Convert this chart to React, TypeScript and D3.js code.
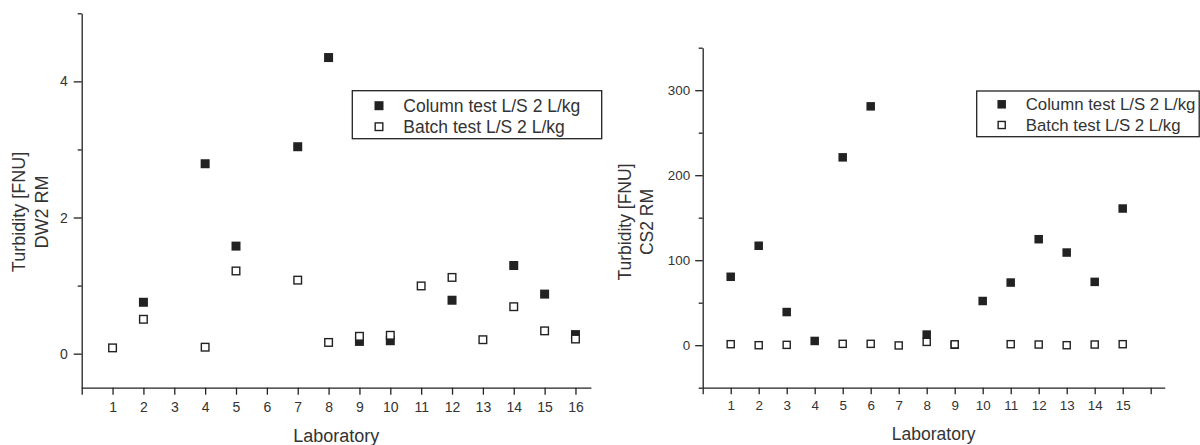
import { useEffect, useRef } from 'react';
import * as d3 from 'd3';

// DW2 RM panel (left)
const dwTickLabels = [1, 2, 3, 4, 5, 6, 7, 8, 9, 10, 11, 12, 13, 14, 15, 16];
const dwColumnLabs = [2, 4, 5, 7, 8, 9, 10, 12, 14, 15, 16];
const dwColumn = [0.755, 2.79, 1.58, 3.04, 4.35, 0.18, 0.19, 0.785, 1.295, 0.875, 0.28];
const dwBatchLabs = [1, 2, 4, 5, 7, 8, 9, 10, 11, 12, 13, 14, 15, 16];
const dwBatch = [0.085, 0.505, 0.095, 1.215, 1.08, 0.165, 0.255, 0.27, 0.995, 1.12, 0.205, 0.69, 0.335, 0.215];
const dwMajor = [0, 2, 4];
const dwMinor = [1, 3, 5];

// CS2 RM panel (right)
const csTickLabels = [1, 2, 3, 4, 5, 6, 7, 8, 9, 10, 11, 12, 13, 14, 15];
const csColumnLabs = [1, 2, 3, 4, 5, 6, 8, 9, 10, 11, 12, 13, 14, 15];
const csColumn = [80.5, 117, 39, 5, 221, 281, 12.5, 0.5, 52, 73.7, 124.7, 109, 74.5, 160.8];
const csBatchLabs = [1, 2, 3, 5, 6, 7, 8, 9, 11, 12, 13, 14, 15];
const csBatch = [1.2, 0, 0.4, 1.6, 1.6, -0.3, 3.9, 1, 1.2, 0.8, 0, 0.8, 1.2];
const csMajor = [0, 100, 200, 300];
const csMinor = [-50, 50, 150, 250, 350];

const legendLabels = ['Column test L/S 2 L/kg', 'Batch test L/S 2 L/kg'];

const FONT = '"Liberation Sans", Arial, sans-serif';
const INK = '#222';
const TXT = '#333';

const panels = [
  {
    left: 81.7, right: 590.9, top: 13.3, bottom: 387.7,
    xDomain: [0, 16.5], yDomain: [-0.5, 5],
    xTicks: 16, tickLabels: dwTickLabels, yMajor: dwMajor, yMinor: dwMinor,
    colLabs: dwColumnLabs, col: dwColumn, batLabs: dwBatchLabs, bat: dwBatch,
    tickFont: 14, labelFont: 18, legendFont: 17.5, marker: 9,
    yTick: 8, yPad: 6, xTick: 7, xPad: 7,
    ylab: { y: 212, x1: 25, x2: 48, l2: 'DW2 RM' },
    xlabY: 442,
    legend: { x: 352.3, y: 90.7, w: 249.4, h: 48, mx: 379, r1: 105.7, r2: 126.7, tx: 403.3 },
  },
  {
    left: 702.7, right: 1164.7, top: 47.7, bottom: 387.7,
    xDomain: [0, 16.5], yDomain: [-50, 350],
    xTicks: 16, tickLabels: csTickLabels, yMajor: csMajor, yMinor: csMinor,
    colLabs: csColumnLabs, col: csColumn, batLabs: csBatchLabs, bat: csBatch,
    tickFont: 13.4, labelFont: 17.5, legendFont: 16.8, marker: 8.5,
    yTick: 7.5, yPad: 5, xTick: 6.5, xPad: 6,
    ylab: { y: 222, x1: 630.5, x2: 653, l2: 'CS2 RM' },
    xlabY: 440,
    legend: { x: 976.7, y: 91, w: 222.5, h: 45.7, mx: 1001.7, r1: 104.3, r2: 125, tx: 1025.7 },
  },
];

function Panel({ cfg }: { cfg: any }) {
  const ref = useRef<SVGGElement>(null);

  useEffect(() => {
    const el = ref.current;
    if (!el) return;
    const g = d3.select(el);
    g.selectAll('*').remove();

    const x = d3.scaleLinear().domain(cfg.xDomain).range([cfg.left, cfg.right]);
    const y = d3.scaleLinear().domain(cfg.yDomain).range([cfg.bottom, cfg.top]);

    // axes
    g.append('g')
      .attr('transform', `translate(${cfg.left},0)`)
      .call(d3.axisLeft(y).tickValues(cfg.yMinor).tickSize(4).tickSizeOuter(0).tickFormat(() => ''))
      .call(a => a.select('.domain').remove());

    g.append('g')
      .attr('transform', `translate(${cfg.left},0)`)
      .call(
        d3.axisLeft(y)
          .tickValues(cfg.yMajor)
          .tickSize(cfg.yTick)
          .tickSizeOuter(0)
          .tickPadding(cfg.yPad)
          .tickFormat((d: any) => String(d))
      );

    g.append('g')
      .attr('transform', `translate(0,${cfg.bottom})`)
      .call(
        d3.axisBottom(x)
          .tickValues(d3.range(0, cfg.xTicks + 1))
          .tickSize(cfg.xTick)
          .tickSizeOuter(0)
          .tickPadding(cfg.xPad)
          .tickFormat((d: any) => (cfg.tickLabels.includes(d) ? String(d) : ''))
      );

    g.selectAll('.domain, .tick line').attr('stroke', INK).attr('stroke-width', 1.3);
    g.selectAll('.tick text')
      .attr('fill', TXT)
      .attr('font-family', FONT)
      .attr('font-size', cfg.tickFont);

    // axis titles
    const yl = g.append('g')
      .attr('font-family', FONT).attr('font-size', cfg.labelFont)
      .attr('fill', TXT).attr('text-anchor', 'middle');
    yl.append('text')
      .attr('transform', `translate(${cfg.ylab.x1},${cfg.ylab.y}) rotate(-90)`)
      .text('Turbidity [FNU]');
    yl.append('text')
      .attr('transform', `translate(${cfg.ylab.x2},${cfg.ylab.y}) rotate(-90)`)
      .text(cfg.ylab.l2);

    g.append('text')
      .attr('x', (cfg.left + cfg.right) / 2)
      .attr('y', cfg.xlabY)
      .attr('text-anchor', 'middle')
      .attr('font-family', FONT).attr('font-size', cfg.labelFont)
      .attr('fill', TXT)
      .text('Laboratory');

    // series: column (filled) first, batch (open) drawn on top
    const s = cfg.marker;
    const sw = 1.4;
    g.append('g').selectAll('rect')
      .data(cfg.colLabs.map((l: number, i: number) => [l, cfg.col[i]]))
      .join('rect')
      .attr('x', (d: any) => x(d[0]) - s / 2)
      .attr('y', (d: any) => y(d[1]) - s / 2)
      .attr('width', s).attr('height', s)
      .attr('fill', INK);

    g.append('g').selectAll('rect')
      .data(cfg.batLabs.map((l: number, i: number) => [l, cfg.bat[i]]))
      .join('rect')
      .attr('x', (d: any) => x(d[0]) - (s - sw) / 2)
      .attr('y', (d: any) => y(d[1]) - (s - sw) / 2)
      .attr('width', s - sw).attr('height', s - sw)
      .attr('fill', '#fff').attr('stroke', INK).attr('stroke-width', sw);

    // legend
    const lg = cfg.legend;
    const legend = g.append('g');
    legend.append('rect')
      .attr('x', lg.x).attr('y', lg.y).attr('width', lg.w).attr('height', lg.h)
      .attr('fill', '#fff').attr('stroke', INK).attr('stroke-width', 1.3);
    legend.append('rect')
      .attr('x', lg.mx - s / 2).attr('y', lg.r1 - s / 2)
      .attr('width', s).attr('height', s).attr('fill', INK);
    legend.append('rect')
      .attr('x', lg.mx - (s - sw) / 2).attr('y', lg.r2 - (s - sw) / 2)
      .attr('width', s - sw).attr('height', s - sw)
      .attr('fill', '#fff').attr('stroke', INK).attr('stroke-width', sw);
    [lg.r1, lg.r2].forEach((ry: number, i: number) => {
      legend.append('text')
        .attr('x', lg.tx).attr('y', ry).attr('dy', '0.36em')
        .attr('font-family', FONT).attr('font-size', cfg.legendFont)
        .attr('fill', TXT)
        .text(legendLabels[i]);
    });
  }, [cfg]);

  return <g ref={ref} />;
}

export default function App() {
  return (
    <svg
      width={1200}
      height={445}
      viewBox="0 0 1200 445"
      style={{ position: 'absolute', left: 0, top: 0, background: '#fff' }}
    >
      {panels.map((p, i) => (
        <Panel key={i} cfg={p} />
      ))}
    </svg>
  );
}
